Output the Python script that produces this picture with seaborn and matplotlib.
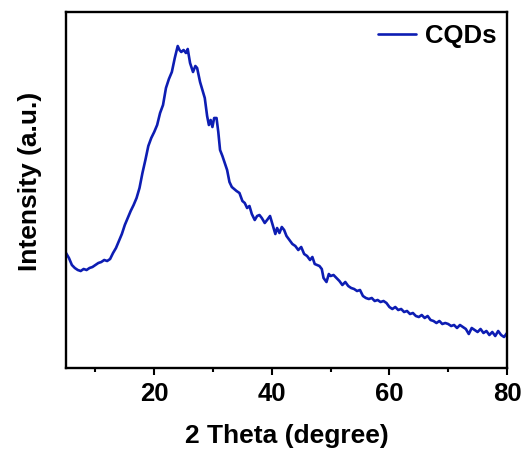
import matplotlib
matplotlib.use("Agg")
import matplotlib.pyplot as plt
import seaborn as sns
import pandas as pd
from matplotlib.ticker import MultipleLocator

two_theta = [5.0, 5.5, 6.0, 6.5, 7.0, 7.5, 8.0, 8.5, 9.0, 9.5, 10.0, 10.5, 11.0, 11.5, 12.0, 12.5,
             13.0, 13.5, 14.0, 14.5, 15.0, 15.5, 16.0, 16.5, 17.0, 17.5, 18.0, 18.5, 19.0, 19.5,
             20.0, 20.5, 21.0, 21.5, 22.0, 22.5, 23.0, 23.5, 24.0, 24.3, 24.6, 25.0, 25.4, 25.7,
             26.1, 26.6, 27.0, 27.3, 27.8, 28.2, 28.6, 29.0, 29.3, 29.6, 29.9, 30.2, 30.6, 30.9,
             31.2, 31.6, 32.0, 32.4, 32.8, 33.2, 33.6, 34.0, 34.5, 35.0, 35.4, 35.8, 36.2, 36.6,
             37.1, 37.5, 37.9, 38.3, 38.8, 39.2, 39.7, 40.2, 40.6, 40.9, 41.3, 41.7, 42.1, 42.5,
             43.0, 43.5, 44.0, 44.5, 45.0, 45.5, 46.0, 46.5, 46.9, 47.3, 47.7, 48.1, 48.5, 48.8,
             49.3, 49.7, 50.0, 50.5, 51.0, 51.5, 52.0, 52.5, 53.0, 53.5, 54.0, 54.5, 55.0, 55.5,
             56.0, 56.5, 57.0, 57.5, 58.0, 58.5, 59.0, 59.5, 60.0, 60.5, 61.0, 61.5, 62.0, 62.5,
             63.0, 63.5, 64.0, 64.5, 65.0, 65.5, 66.0, 66.5, 67.0, 67.5, 68.0, 68.5, 69.0, 69.5,
             70.0, 70.5, 71.0, 71.5, 72.0, 72.5, 73.0, 73.5, 74.0, 74.5, 75.0, 75.5, 76.0, 76.5,
             77.0, 77.5, 78.0, 78.5, 79.0, 79.5, 80.0]
intensity = [115, 110, 103, 100, 98, 97, 99, 98, 100, 101, 103, 105, 106, 108, 107, 109,
             115, 120, 127, 134, 143, 150, 157, 163, 170, 180, 195, 208, 222, 230,
             236, 243, 255, 263, 280, 289, 296, 310, 322, 318, 316, 318, 315, 319,
             305, 296, 302, 300, 286, 278, 270, 252, 243, 248, 241, 250, 250, 236,
             218, 212, 205, 198, 186, 181, 179, 177, 175, 167, 165, 160, 162, 154,
             148, 152, 153, 150, 145, 148, 152, 142, 134, 140, 135, 141, 138, 132,
             128, 124, 122, 118, 121, 114, 112, 108, 111, 104, 103, 102, 99, 90,
             86, 94, 92, 93, 90, 87, 83, 86, 82, 80, 79, 77, 78, 72,
             70, 69, 70, 67, 68, 66, 67, 65, 61, 59, 61, 58, 59, 56,
             57, 54, 55, 52, 51, 53, 50, 52, 48, 47, 45, 47, 44, 45,
             44, 42, 43, 40, 43, 41, 39, 34, 40, 38, 36, 39, 35, 37,
             33, 36, 32, 37, 33, 31, 35]
series_label = "CQDs"

df = pd.DataFrame({"2theta": two_theta, "I": intensity, "sample": series_label})

sns.set_style("ticks")
plt.rcParams["font.family"] = ["Liberation Sans", "DejaVu Sans"]
plt.rcParams["font.weight"] = "bold"
plt.rcParams["text.color"] = "black"
plt.rcParams["axes.labelcolor"] = "black"
plt.rcParams["xtick.color"] = "black"
plt.rcParams["ytick.color"] = "black"

fig = plt.figure(figsize=(5.27, 4.57), dpi=100)
ax = fig.add_axes([66/527, 1-368/457, 441/527, 356/457])

sns.lineplot(data=df, x="2theta", y="I", hue="sample", palette=["#0d1db3"],
             linewidth=1.9, ax=ax, legend=True)

ax.set_xlim(5, 80)
ax.set_ylim(0, 356)
ax.xaxis.set_major_locator(MultipleLocator(20))
ax.xaxis.set_minor_locator(MultipleLocator(10))
ax.set_yticks([])
ax.tick_params(axis="x", which="major", direction="out", length=5, width=1.5,
               labelsize=18.5, pad=5)
ax.tick_params(axis="x", which="minor", direction="out", length=3, width=1.5)
for lab in ax.get_xticklabels():
    lab.set_fontweight("bold")
for s in ax.spines.values():
    s.set_linewidth(1.7)
    s.set_color("black")

ax.set_xlabel("2 Theta (degree)", fontsize=19, fontweight="bold", labelpad=13)
ax.set_ylabel("Intensity (a.u.)", fontsize=19, fontweight="bold", labelpad=17)
ax.yaxis.label.set_y(0.524)

leg = ax.legend(loc="upper right", frameon=False, handlelength=1.5,
                prop={"weight": "bold", "size": 18.5}, borderaxespad=0.05,
                borderpad=0.35, handletextpad=0.35,
                bbox_to_anchor=(1.0, 0.995))

fig.savefig("out.png", dpi=100)
